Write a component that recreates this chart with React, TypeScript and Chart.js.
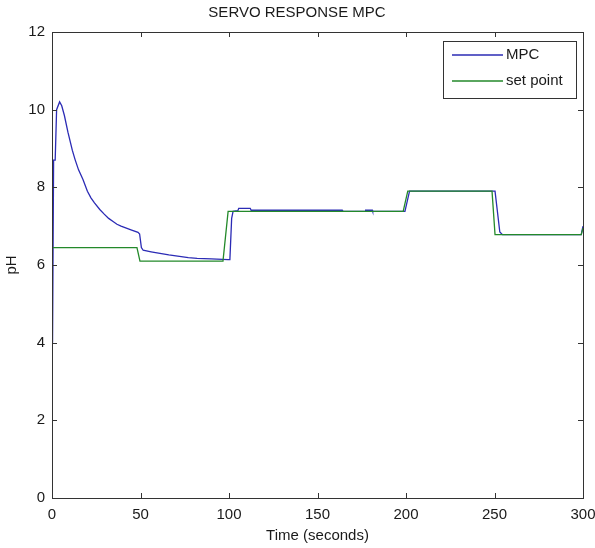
import React, { useEffect, useRef } from "react";
import { Chart, registerables } from "chart.js";

Chart.register(...registerables);

const chartTitle = "SERVO RESPONSE MPC";
const xAxisTitle = "Time (seconds)";
const yAxisTitle = "pH";
const xTicks = [0, 50, 100, 150, 200, 250, 300];
const yTicks = [0, 2, 4, 6, 8, 10, 12];

const mpcLabel = "MPC";
const mpcTime = [0, 0.3, 0.9, 1.8, 2.6, 4.3, 5.5, 7, 9, 11.5, 13, 15, 17.5, 20, 22, 24, 27, 29.5, 32, 34.5, 36.7, 39, 42, 45, 48.6, 49.5, 50.5, 51.5, 56, 61, 66, 72, 77, 82, 90, 99.5, 100.5, 101.5, 102.3, 105, 105.5, 112, 112.5, 164, 164.5, 177, 177.2, 181, 181.2, 199.4, 202, 250.3, 253, 254.5, 299, 300];
const mpcPH = [8.7, 4.0, 8.7, 8.7, 10.0, 10.2, 10.1, 9.85, 9.42, 8.95, 8.72, 8.45, 8.2, 7.9, 7.73, 7.6, 7.43, 7.31, 7.2, 7.12, 7.05, 7.0, 6.95, 6.9, 6.84, 6.8, 6.45, 6.38, 6.34, 6.3, 6.26, 6.22, 6.19, 6.17, 6.16, 6.14, 6.14, 7.2, 7.38, 7.4, 7.46, 7.46, 7.41, 7.41, 7.38, 7.38, 7.41, 7.41, 7.38, 7.38, 7.9, 7.9, 6.85, 6.78, 6.78, 7.0];

const spLabel = "set point";
const spTime = [0, 48, 49.7, 96.6, 99.5, 198.4, 201, 248.6, 250.3, 299, 300];
const spPH = [6.45, 6.45, 6.1, 6.1, 7.38, 7.38, 7.9, 7.9, 6.78, 6.78, 6.95];

const mpcColor = "#2b2bb5";
const spColor = "#23892a";
const FONT = "'Liberation Sans', Arial, sans-serif";
const TEXT = "#1a1a1a";

const decorPlugin = {
  id: "matlabDecor",
  afterDatasetsDraw(chart: any) {
    const { ctx, chartArea } = chart;
    const { left, right, top, bottom } = chartArea;
    const xs = chart.scales.x;
    const ys = chart.scales.y;
    ctx.save();
    ctx.strokeStyle = "#333";
    ctx.lineWidth = 1;
    ctx.strokeRect(Math.round(left) + 0.5, Math.round(top) + 0.5, Math.round(right - left), Math.round(bottom - top));
    const tl = 5;
    ctx.beginPath();
    xTicks.forEach((v) => {
      const px = Math.round(xs.getPixelForValue(v)) + 0.5;
      ctx.moveTo(px, bottom);
      ctx.lineTo(px, bottom - tl);
      ctx.moveTo(px, top);
      ctx.lineTo(px, top + tl);
    });
    yTicks.forEach((v) => {
      const py = Math.round(ys.getPixelForValue(v)) + 0.5;
      ctx.moveTo(left, py);
      ctx.lineTo(left + tl, py);
      ctx.moveTo(right, py);
      ctx.lineTo(right - tl, py);
    });
    ctx.stroke();

    ctx.fillStyle = TEXT;
    ctx.font = `15px ${FONT}`;
    ctx.textAlign = "center";
    ctx.textBaseline = "middle";
    ctx.fillText(chartTitle, 297, 13);

    const lx = right - 140;
    const ly = top + 9;
    const lw = 133;
    const lh = 57;
    ctx.fillStyle = "#fff";
    ctx.fillRect(lx, ly, lw, lh);
    ctx.strokeStyle = "#333";
    ctx.lineWidth = 1;
    ctx.strokeRect(Math.round(lx) + 0.5, Math.round(ly) + 0.5, lw, lh);
    const items = chart.data.datasets.map((d: any) => ({ label: d.label, color: d.borderColor }));
    items.forEach((it: any, i: number) => {
      const yy = ly + 14 + i * 26;
      ctx.strokeStyle = it.color;
      ctx.lineWidth = 1.3;
      ctx.beginPath();
      ctx.moveTo(lx + 9, yy);
      ctx.lineTo(lx + 60, yy);
      ctx.stroke();
      ctx.fillStyle = TEXT;
      ctx.font = `15px ${FONT}`;
      ctx.textAlign = "left";
      ctx.textBaseline = "middle";
      ctx.fillText(it.label, lx + 63, yy);
    });
    ctx.restore();
  },
};

export default function App() {
  const ref = useRef<HTMLCanvasElement | null>(null);
  useEffect(() => {
    if (!ref.current) return;
    const chart = new Chart(ref.current, {
      type: "line",
      data: {
        datasets: [
          {
            label: mpcLabel,
            data: mpcTime.map((t, i) => ({ x: t, y: mpcPH[i] })),
            borderColor: mpcColor,
            borderWidth: 1.3,
            pointRadius: 0,
            tension: 0,
            fill: false,
            order: 1,
          },
          {
            label: spLabel,
            data: spTime.map((t, i) => ({ x: t, y: spPH[i] })),
            borderColor: spColor,
            borderWidth: 1.3,
            pointRadius: 0,
            tension: 0,
            fill: false,
            order: 0,
          },
        ],
      },
      options: {
        responsive: false,
        animation: false,
        layout: { padding: { top: 32, right: 12, left: 0, bottom: 2 } },
        plugins: { legend: { display: false }, tooltip: { enabled: false }, title: { display: false } },
        scales: {
          x: {
            type: "linear",
            min: 0,
            max: 300,
            afterBuildTicks: (s: any) => {
              s.ticks = xTicks.map((v) => ({ value: v }));
            },
            afterFit: (s: any) => {
              s.height = 48;
              s.paddingLeft = 0;
              s.paddingRight = 0;
            },
            grid: { display: false, drawTicks: false },
            border: { display: false },
            ticks: { color: TEXT, font: { family: FONT, size: 15 }, padding: 8, maxRotation: 0 },
            title: { display: true, text: xAxisTitle, color: TEXT, font: { family: FONT, size: 15 }, padding: { top: 0, bottom: 1 } },
          },
          y: {
            type: "linear",
            min: 0,
            max: 12,
            afterBuildTicks: (s: any) => {
              s.ticks = yTicks.map((v) => ({ value: v }));
            },
            afterFit: (s: any) => {
              s.width = 52;
              s.paddingTop = 0;
              s.paddingBottom = 0;
            },
            grid: { display: false, drawTicks: false },
            border: { display: false },
            ticks: { color: TEXT, font: { family: FONT, size: 15 }, padding: 7 },
            title: { display: true, text: yAxisTitle, color: TEXT, font: { family: FONT, size: 15 }, padding: { top: 3, bottom: 0 } },
          },
        },
      },
      plugins: [decorPlugin],
    } as any);
    return () => chart.destroy();
  }, []);
  return (
    <div style={{ position: "fixed", left: 0, top: 0, width: 595, height: 548, background: "#fff" }}>
      <canvas ref={ref} width={595} height={548} style={{ display: "block" }} />
    </div>
  );
}
